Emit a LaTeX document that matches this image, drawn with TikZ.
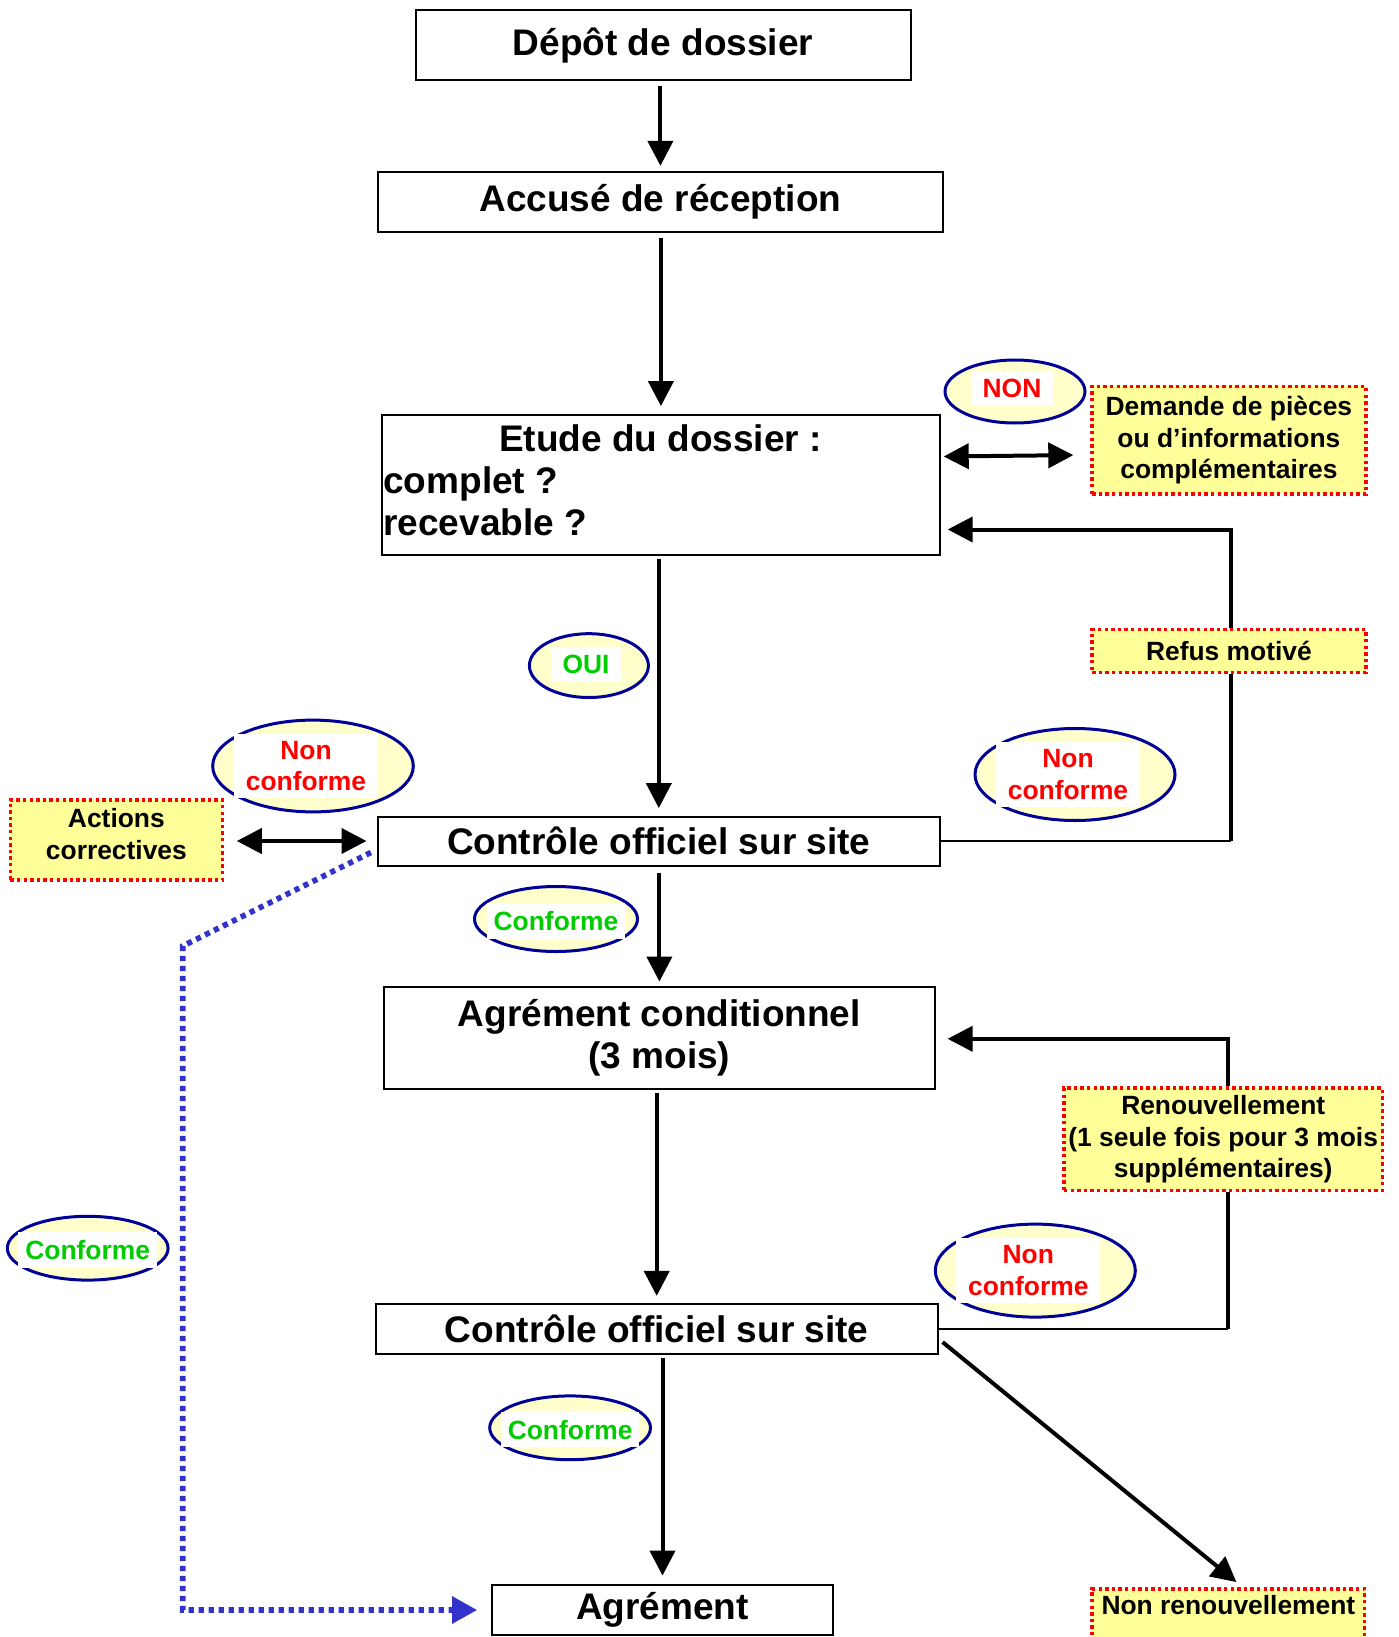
\documentclass[tikz,border=0pt]{standalone}
\usepackage{fontspec}
\setmainfont{Liberation Sans}
\usetikzlibrary{arrows.meta,shapes.geometric,calc}
\definecolor{boxyellow}{HTML}{FFFF99}
\definecolor{ellyellow}{HTML}{FFFFCC}
\definecolor{navy}{HTML}{000099}
\definecolor{okgreen}{HTML}{00CC00}
\definecolor{dotblue}{HTML}{3333CC}
\definecolor{nored}{HTML}{FF0000}
\begin{document}
\begin{tikzpicture}[x=0.5pt,y=-0.5pt,
  big/.style={font={\fontsize{18.5}{21.4}\selectfont\bfseries}},
  small/.style={font={\fontsize{13.2}{15.65}\selectfont\bfseries}},
  mainbox/.style={draw=black, line width=1pt, fill=white, inner sep=0pt, align=center, big},
  notebox/.style={draw=nored, line width=1.8pt, dash pattern=on 1.7pt off 1.6pt, fill=boxyellow, inner sep=0pt, align=center, small},
  bubble/.style={ellipse, draw=navy, line width=1.5pt, fill=ellyellow, inner sep=0pt},
  btext/.style={fill=white, inner xsep=6pt, inner ysep=3.7pt, align=center, small},
  ctext/.style={btext, inner xsep=3.5pt, inner ysep=4pt, text=okgreen},
  rtext/.style={btext, text=nored},
  arr/.style={line width=2pt, -{Triangle[length=12.5pt,width=12.5pt]}},
  dbl/.style={line width=2pt, {Triangle[length=12.5pt,width=12.5pt]}-{Triangle[length=12.5pt,width=12.5pt]}},
  thinline/.style={line width=1.25pt},
  thickline/.style={line width=2pt},
  bluearr/.style={draw=dotblue, line width=2.8pt, dash pattern=on 2.6pt off 2.4pt, -{Triangle[length=12.5pt,width=13pt,fill=dotblue]}}
]
\fill[white] (0,0) rectangle (1398,1637);
\useasboundingbox (0,0) rectangle (1398,1637);

% main boxes
\node[mainbox, minimum width=247.5pt, minimum height=35pt] (depot) at (663,45.4) {Dépôt de dossier};
\node[mainbox, minimum width=282.4pt, minimum height=29.75pt] (accuse) at (660.4,202) {Accusé de réception};
\node[mainbox, minimum width=278.8pt, minimum height=70pt] (etude) at (660.9,484.5) {};
\node[big, inner sep=0pt, anchor=base] (etudeT1) at (660.4,451) {Etude du dossier :};
\node[big, inner sep=0pt, anchor=base west] (etudeT2) at (383,493) {complet ?};
\node[big, inner sep=0pt, anchor=base west] (etudeT3) at (383,535) {recevable ?};
\node[mainbox, minimum width=280.9pt, minimum height=24.5pt] (ctrl1) at (658.8,841) {Contrôle officiel sur site};
\node[mainbox, minimum width=275.2pt, minimum height=51.2pt] (agrcond) at (659.4,1037.8) {Agrément conditionnel\\(3 mois)};
\node[mainbox, minimum width=280.9pt, minimum height=25pt] (ctrl2) at (656.7,1329.1) {Contrôle officiel sur site};
\node[mainbox, minimum width=170.7pt, minimum height=25pt] (agrement) at (662.5,1610) {Agrément};

% note boxes
\node[notebox, minimum width=136.8pt, minimum height=53.8pt] (demande) at (1228.9,440.1) {Demande de pièces\\ou d’informations\\complémentaires};
\node[notebox, minimum width=136.8pt, minimum height=21.4pt] (refus) at (1228.9,651) {Refus motivé};
\node[notebox, minimum width=106pt, minimum height=40.2pt, text depth=6pt] (actions) at (116.4,840) {Actions\\correctives};
\node[notebox, minimum width=159.25pt, minimum height=51.15pt] (renouv) at (1223.2,1139.2) {Renouvellement\\(1 seule fois pour 3 mois\\supplémentaires)};
\node[notebox, minimum width=136.25pt, anchor=north, inner ysep=3pt, text height=10pt, text depth=20pt] (nonrenouv) at (1228.4,1587.1) {Non renouvellement};

% bubbles
\node[bubble, minimum width=70pt, minimum height=31.5pt] (eNON) at (1015,391.5) {};
\node[rtext] (tNON) at (1012,388) {NON};
\node[bubble, minimum width=59.5pt, minimum height=31.9pt] (eOUI) at (588.9,665.6) {};
\node[btext, text=okgreen] (tOUI) at (586,664) {OUI};
\node[bubble, minimum width=100.3pt, minimum height=45.9pt] (eNC1) at (313,766) {};
\node[rtext] (tNC1) at (306,766) {Non\\conforme};
\node[bubble, minimum width=100pt, minimum height=46pt] (eNC2) at (1075,774.5) {};
\node[rtext] (tNC2) at (1068,774.5) {Non\\conforme};
\node[bubble, minimum width=100pt, minimum height=46.5pt] (eNC3) at (1035.3,1270.6) {};
\node[rtext] (tNC3) at (1028.3,1270.6) {Non\\conforme};
\node[bubble, minimum width=81.5pt, minimum height=32.5pt] (eC1) at (556,919) {};
\node[ctext] (tC1) at (556,921) {Conforme};
\node[bubble, minimum width=80.4pt, minimum height=31.9pt] (eC2) at (87.7,1248.2) {};
\node[ctext] (tC2) at (87.7,1250) {Conforme};
\node[bubble, minimum width=80.4pt, minimum height=31.9pt] (eC3) at (570.1,1427.8) {};
\node[ctext] (tC3) at (570.1,1429.6) {Conforme};

% main flow
\draw[arr, shorten <=2.5pt, shorten >=2.7pt] (accuse.north |- depot.south) -- (accuse.north);
\draw[arr, shorten <=2.6pt, shorten >=3.7pt] (etude.north |- accuse.south) -- (etude.north);
\draw[arr, shorten <=1.5pt, shorten >=3.7pt] (ctrl1.north |- etude.south) -- (ctrl1.north);
\draw[arr, shorten <=3pt, shorten >=2pt] (agrcond.north |- ctrl1.south) -- (agrcond.north);
\draw[arr, shorten <=1.5pt, shorten >=3.6pt] (ctrl2.north |- agrcond.south) -- (ctrl2.north);
\draw[arr, shorten <=1.5pt, shorten >=4.2pt] (agrement.north |- ctrl2.south) -- (agrement.north);
\draw[arr] ($(ctrl2.south east)+(4,-13)$) -- ($(nonrenouv.north)+(8,-5)$);

% side exchanges
\draw[dbl] ($(etude.south east)+(3,-99)$) -- ($(demande.west)+(-17,15)$);
\draw[dbl, shorten <=6.3pt, shorten >=5.2pt] (actions.east |- ctrl1.west) -- (ctrl1.west);

% refus loop
\draw[thinline] (ctrl1.east) -- ([xshift=1pt]ctrl1.east -| refus.south);
\draw[thickline] ([xshift=1pt]refus.south) -- ([xshift=1pt]refus.south |- ctrl1.east);
\draw[arr] ([xshift=1pt]refus.north) |- ($(etude.south east)+(7,-26)$);

% renouvellement loop
\draw[thinline] (ctrl2.east) -- ([xshift=2.4pt]ctrl2.east -| renouv.south);
\draw[thickline] ([xshift=2.4pt]renouv.south) -- ([xshift=2.4pt]renouv.south |- ctrl2.east);
\draw[arr] ([xshift=2.4pt]renouv.north) |- ($(agrcond.east)+(12,1)$);

% conforme shortcut
\coordinate (bend) at (182.7,946);
\draw[bluearr, shorten >=6.8pt] ($(ctrl1.south west)+(-6,-14)$) -- (bend) |- (agrement.west);
\end{tikzpicture}
\end{document}
